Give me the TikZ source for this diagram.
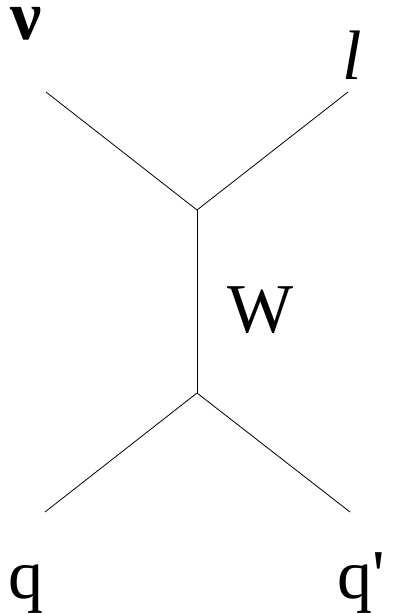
\documentclass[tikz,border=0pt]{standalone}
\usepackage{fontspec}
\setmainfont{Liberation Serif}[Ligatures=TeXOff]
\tikzset{
  lbl/.style={inner sep=0pt, anchor=base west, font=\fontsize{70}{70}\selectfont},
  prop/.style={line width=0.8pt, black}
}
\begin{document}
\begin{tikzpicture}[x=1pt,y=-1pt]
\useasboundingbox (0,0) rectangle (394,614);
% vertices and external ends
\coordinate (v1) at (197,210);
\coordinate (v2) at (197,393);
\coordinate (nuend) at (46,92);
\coordinate (lend) at (348,92);
\coordinate (qend) at (45,512);
\coordinate (qpend) at (350,512);
\draw[prop] (nuend) -- (v1);
\draw[prop] (lend) -- (v1);
\draw[prop] (v1) -- (v2);
\draw[prop] (v2) -- (qend);
\draw[prop] (v2) -- (qpend);
% labels
\node[lbl] (nu) at (10,39) {\bfseries ν};
\node[lbl] (l) at (342,79) {\itshape l};
\node[lbl] (W) at (227,332) {W};
\node[lbl] (q) at (8,598) {q};
\node[lbl] (qp) at (337,598) {q'};
\end{tikzpicture}
\end{document}
